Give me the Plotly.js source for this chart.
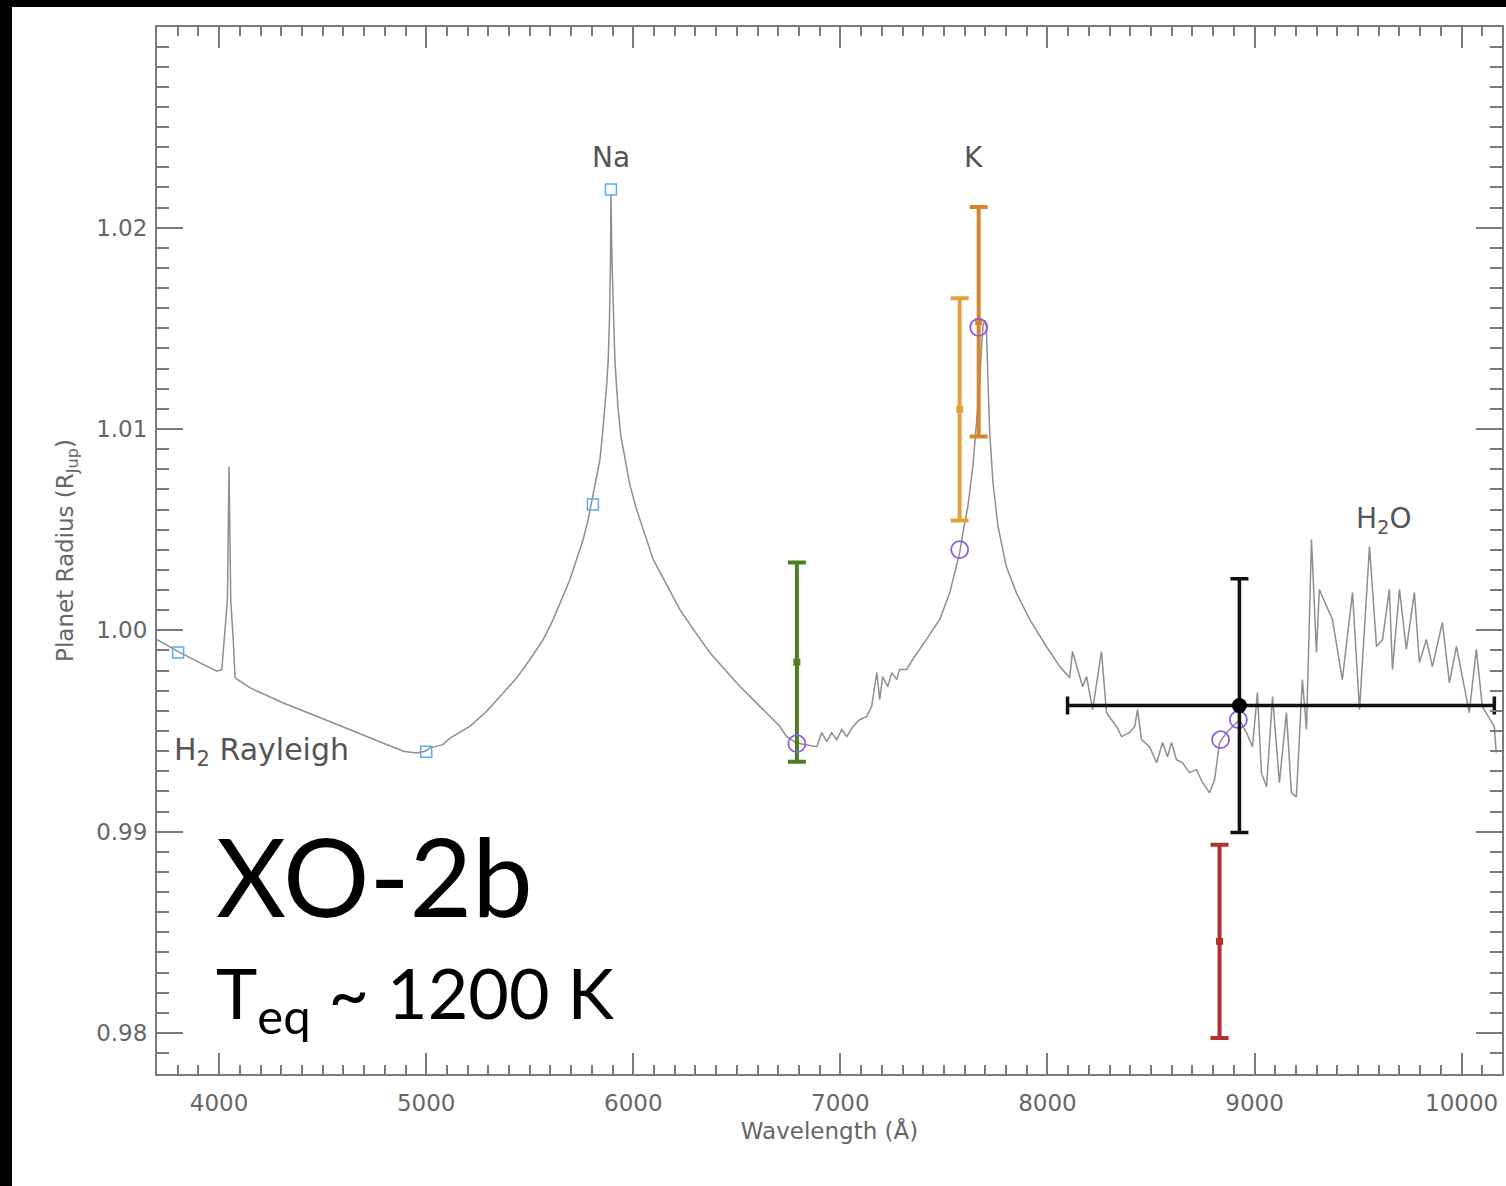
<!DOCTYPE html>
<html>
<head>
<meta charset="utf-8">
<script src="https://cdn.plot.ly/plotly-3.0.1.min.js"></script>
<style>
  html, body { margin: 0; padding: 0; background: #000; }
  #wrap { position: absolute; left: 12px; top: 7px; width: 1494px; height: 1179px; background: #fff; }
  #chart { width: 1494px; height: 1179px; }
</style>
</head>
<body>
<div id="wrap"><div id="chart"></div></div>
<script>
// Model transmission spectrum (wavelength in Angstrom, radius in R_Jup)
const wavelength = [
  3700, 3812, 3908, 3989, 4013, 4029, 4040, 4048, 4056, 4068, 4077, 4150, 4310, 4471, 4632,
  4793, 4889, 4954, 4994, 5018, 5081, 5115, 5211, 5292, 5372, 5437, 5501, 5565, 5613, 5654,
  5694, 5726, 5758, 5782, 5799, 5819, 5839, 5852, 5863, 5871, 5879, 5885, 5890, 5892, 5897,
  5904, 5911, 5919, 5927, 5940, 5959, 5983, 6016, 6056, 6096, 6161, 6225, 6297, 6370, 6442,
  6514, 6587, 6659, 6707, 6740, 6788, 6886, 6910, 6934, 6958, 6982, 7007, 7031, 7060, 7093,
  7127, 7151, 7176, 7190, 7204, 7229, 7248, 7272, 7286, 7320, 7349, 7415, 7480, 7528, 7560,
  7576, 7592, 7616, 7640, 7657, 7673, 7681, 7689, 7697, 7705, 7713, 7721, 7737, 7761, 7801,
  7850, 7914, 7994, 8059, 8107, 8121, 8170, 8189, 8218, 8261, 8285, 8334, 8358, 8396, 8421,
  8435, 8454, 8493, 8527, 8556, 8580, 8599, 8623, 8652, 8686, 8720, 8749, 8783, 8807, 8831,
  8865, 8927, 8961, 8990, 9014, 9033, 9058, 9087, 9120, 9154, 9178, 9202, 9231, 9251, 9275,
  9299, 9313, 9376, 9424, 9473, 9507, 9555, 9589, 9618, 9651, 9666, 9700, 9733, 9772, 9796,
  9830, 9859, 9907, 9941, 9975, 10037, 10071, 10100, 10158, 10167
];
const radius = [
  0.99954, 0.99889, 0.99838, 0.99797, 0.99805, 0.99989, 1.00153, 1.00814, 1.00153, 0.99954, 0.99764, 0.99714, 0.99639, 0.99573, 0.99507,
  0.99440, 0.99399, 0.99391, 0.99399, 0.99416, 0.99432, 0.99465, 0.99523, 0.99598, 0.99689, 0.99764, 0.99855, 0.99954, 1.00053, 1.00153,
  1.00252, 1.00352, 1.00451, 1.00550, 1.00634, 1.00733, 1.00849, 1.00982, 1.01097, 1.01213, 1.01346, 1.01545, 1.01843, 1.02167, 1.01843,
  1.01545, 1.01346, 1.01213, 1.01097, 1.00965, 1.00849, 1.00725, 1.00600, 1.00476, 1.00352, 1.00227, 1.00103, 0.99995, 0.99888, 0.99805,
  0.99722, 0.99647, 0.99573, 0.99523, 0.99473, 0.99440, 0.99422, 0.99492, 0.99447, 0.99492, 0.99457, 0.99507, 0.99472, 0.99521, 0.99556,
  0.99571, 0.99621, 0.99790, 0.99656, 0.99770, 0.99720, 0.99790, 0.99755, 0.99805, 0.99805, 0.99855, 0.99954, 1.00054, 1.00186, 1.00318,
  1.00385, 1.00485, 1.00617, 1.00816, 1.01015, 1.01230, 1.01396, 1.01512, 1.01540, 1.01512, 1.01230, 1.00982, 1.00733, 1.00517, 1.00318,
  1.00186, 1.00054, 0.99921, 0.99821, 0.99764, 0.99895, 0.99720, 0.99770, 0.99606, 0.99895, 0.99591, 0.99521, 0.99472, 0.99492, 0.99521,
  0.99606, 0.99457, 0.99422, 0.99342, 0.99442, 0.99372, 0.99442, 0.99357, 0.99342, 0.99293, 0.99308, 0.99243, 0.99193, 0.99258, 0.99442,
  0.99492, 0.99556, 0.99492, 0.99422, 0.99691, 0.99293, 0.99223, 0.99671, 0.99243, 0.99591, 0.99193, 0.99173, 0.99755, 0.99507, 1.00451,
  0.99890, 1.00203, 1.00054, 0.99755, 1.00188, 0.99606, 1.00416, 0.99920, 0.99954, 1.00203, 0.99805, 1.00203, 0.99905, 1.00188, 0.99840,
  0.99954, 0.99820, 1.00039, 0.99740, 0.99920, 0.99591, 0.99905, 0.99621, 0.99521, 0.99392
];

// Band-integrated model points
const squareX = [3802, 5000, 5805, 5892];
const squareY = [0.99890, 0.99397, 1.00625, 1.02190];
const circleX = [6790, 7576, 7668, 8836, 8922];
const circleY = [0.99437, 1.00401, 1.01505, 0.99457, 0.99556];

// Measurements
const greenX = [6790], greenY = [0.99842], greenErr = [0.00495];
const lightOrangeX = [7576], lightOrangeY = [1.01098], lightOrangeErr = [0.00552];
const orangeX = [7668], orangeY = [1.01533], orangeErr = [0.00570];
const redX = [8831], redY = [0.98455], redErr = [0.00480];
const blackX = [8927], blackY = [0.99626], blackErrY = [0.00630];
const blackErrXPlus = [1231], blackErrXMinus = [830];

// Axis ticks
const xTicks = [4000, 5000, 6000, 7000, 8000, 9000, 10000];
const xTickText = ['4000', '5000', '6000', '7000', '8000', '9000', '10000'];
const yTicks = [0.98, 0.99, 1.00, 1.01, 1.02];
const yTickText = ['0.98', '0.99', '1.00', '1.01', '1.02'];

const frame = '#7a7a7a';
const labelFont = {family: 'DejaVu Sans', size: 23, color: '#666'};

function errTrace(x, y, e, color) {
  return {
    x: x, y: y, type: 'scatter', mode: 'markers',
    marker: {symbol: 'square', size: 7, color: color},
    error_y: {type: 'data', array: e, visible: true, color: color, thickness: 4, width: 9},
    hoverinfo: 'skip', showlegend: false
  };
}

const traces = [
  {x: wavelength, y: radius, type: 'scatter', mode: 'lines',
   line: {color: '#8e8e8e', width: 1.5}, showlegend: false},
  errTrace(greenX, greenY, greenErr, '#4f7d1f'),
  errTrace(lightOrangeX, lightOrangeY, lightOrangeErr, '#e2a33c'),
  errTrace(orangeX, orangeY, orangeErr, '#d6852c'),
  errTrace(redX, redY, redErr, '#b3302e'),
  {x: squareX, y: squareY, type: 'scatter', mode: 'markers',
   marker: {symbol: 'square-open', size: 11, color: '#5aaee4', line: {width: 1.5}}, showlegend: false},
  {x: circleX, y: circleY, type: 'scatter', mode: 'markers',
   marker: {symbol: 'circle-open', size: 17, color: '#8a5ae8', line: {width: 1.8}}, showlegend: false},
  {x: blackX, y: blackY, type: 'scatter', mode: 'markers',
   marker: {symbol: 'circle', size: 15, color: '#000'},
   error_y: {type: 'data', array: blackErrY, visible: true, color: '#111', thickness: 3.5, width: 9},
   error_x: {type: 'data', symmetric: false, array: blackErrXPlus, arrayminus: blackErrXMinus, visible: true, color: '#111', thickness: 3.5, width: 9},
   showlegend: false}
];

const annFont = {family: 'DejaVu Sans', size: 28, color: '#555'};
const layout = {
  width: 1494, height: 1179,
  paper_bgcolor: '#ffffff', plot_bgcolor: '#ffffff',
  margin: {l: 145, r: 4, t: 20, b: 112},
  showlegend: false,
  xaxis: {
    range: [3700, 10195], showgrid: false, zeroline: false,
    showline: true, linecolor: frame, linewidth: 2, mirror: 'allticks',
    ticks: 'inside', ticklen: 21, tickwidth: 2, tickcolor: frame,
    tickvals: xTicks, ticktext: xTickText, tickfont: labelFont, ticklabelstandoff: 7,
    minor: {ticks: 'inside', dtick: 100, tick0: 0, ticklen: 9, tickwidth: 2, tickcolor: frame},
    title: {text: 'Wavelength (Å)', font: labelFont, standoff: 8}
  },
  yaxis: {
    range: [0.97796, 1.02997], showgrid: false, zeroline: false,
    showline: true, linecolor: frame, linewidth: 2, mirror: 'allticks',
    ticks: 'inside', ticklen: 26, tickwidth: 2, tickcolor: frame,
    tickvals: yTicks, ticktext: yTickText, tickfont: labelFont, ticklabelstandoff: 3,
    minor: {ticks: 'inside', dtick: 0.001, tick0: 0.98, ticklen: 12, tickwidth: 2, tickcolor: frame},
    title: {text: 'Planet Radius (R<sub>Jup</sub>)', font: labelFont, standoff: 16}
  },
  annotations: [
    {x: 5892, y: 1.02351, xref: 'x', yref: 'y', text: 'Na', showarrow: false, font: annFont},
    {x: 7644, y: 1.02351, xref: 'x', yref: 'y', text: 'K', showarrow: false, font: annFont},
    {x: 9627, y: 1.00546, xref: 'x', yref: 'y', text: 'H<sub>2</sub>O', showarrow: false, font: annFont},
    {x: 3770, y: 0.99397, xref: 'x', yref: 'y', xanchor: 'left', text: 'H<sub>2</sub> Rayleigh', showarrow: false, font: {family: 'DejaVu Sans', size: 30, color: '#555'}},
    {x: 3975, y: 0.98786, xref: 'x', yref: 'y', xanchor: 'left', text: 'XO-2b', showarrow: false, font: {family: 'Lato', size: 108, color: '#000'}},
    {x: 3975, y: 0.98180, xref: 'x', yref: 'y', xanchor: 'left', text: 'T<sub>eq</sub> ~ 1200 K', showarrow: false, font: {family: 'Lato', size: 70, color: '#000'}}
  ]
};

Plotly.newPlot('chart', traces, layout, {displayModeBar: false, staticPlot: true});
</script>
</body>
</html>
